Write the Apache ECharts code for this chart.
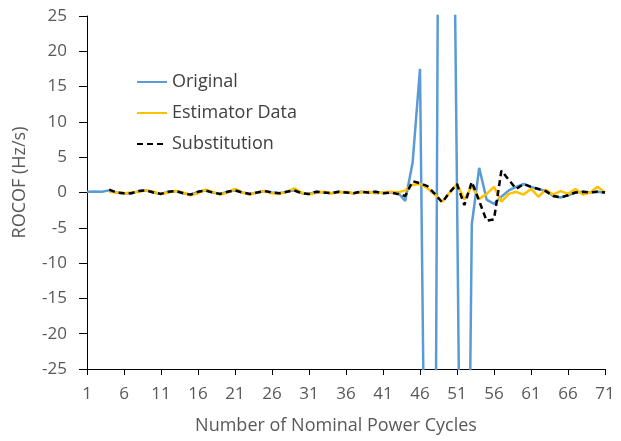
<!DOCTYPE html>
<html>
<head>
<meta charset="utf-8">
<script src="https://cdn.jsdelivr.net/npm/echarts@6/dist/echarts.min.js"></script>
<style>
  html, body { margin: 0; padding: 0; background: #fff; }
  #chart { width: 621px; height: 441px; }
</style>
</head>
<body>
<div id="chart"></div>
<script>
// cycle numbers 1..71
const cycles = []
for (let c = 1; c <= 71; c++) cycles.push(String(c))

const yTicks = [-25, 25, 5] // min, max, step

const original = [
  0.1, 0.15, 0.1, 0.3, 0.0, -0.1, -0.1, 0.2, 0.3, 0.0,
  -0.2, 0.1, 0.2, -0.1, -0.3, 0.1, 0.3, 0.0, -0.2, 0.1,
  0.3, 0.0, -0.2, 0.0, 0.2, 0.0, -0.1, 0.1, 0.3, -0.1,
  -0.2, 0.1, 0.0, -0.1, 0.1, 0.0, -0.1, 0.1, 0.0, 0.1,
  -0.1, 0.0, 0.0, -1.2, 4.2, 17.5, -78, -65, 166, 100,
  0.5, -105, -4.5, 3.5, -1.0, -1.6, -0.6, 0.3, 0.8, 1.2,
  0.8, 0.5, 0.2, -0.5, -0.7, -0.4, 0.0, 0.1, 0.0, 0.1,
  0.0
]

const estimator = [
  null, null, null, 0.1, 0.0, -0.1, 0.0, 0.1, 0.3, 0.1,
  -0.2, 0.0, 0.2, 0.0, -0.4, -0.1, 0.4, 0.1, -0.3, 0.0,
  0.5, 0.0, -0.3, 0.0, 0.2, -0.1, -0.2, 0.1, 0.6, 0.0,
  -0.3, 0.0, 0.1, -0.1, 0.0, 0.1, -0.1, 0.0, 0.1, -0.1,
  0.0, 0.1, 0.0, 0.3, 1.1, 1.2, 0.6, -0.3, -1.3, 0.0,
  1.2, -1.0, 0.9, -0.9, -0.2, 0.8, -1.3, -0.2, 0.1, -0.3,
  0.5, -0.6, 0.4, -0.3, 0.2, -0.2, 0.5, -0.3, 0.0, 0.8,
  0.0
]

const substitution = [
  null, null, null, 0.4, 0.0, -0.1, -0.1, 0.2, 0.3, 0.0,
  -0.2, 0.1, 0.2, -0.1, -0.3, 0.1, 0.3, 0.0, -0.2, 0.1,
  0.3, 0.0, -0.2, 0.0, 0.2, 0.0, -0.1, 0.1, 0.3, -0.1,
  -0.2, 0.1, 0.0, -0.1, 0.1, 0.0, -0.1, 0.1, 0.0, 0.1,
  -0.1, 0.0, -0.2, -0.5, 1.6, 1.3, 0.9, -0.2, -1.4, 0.0,
  1.2, -1.8, 1.5, -1.2, -4.0, -3.8, 3.1, 1.8, 0.5, 1.2,
  0.8, 0.5, 0.2, -0.5, -0.7, -0.4, 0.0, 0.1, 0.0, 0.1,
  0.0
]

const font = '"Open Sans", "Liberation Sans", sans-serif'
const chart = echarts.init(document.getElementById('chart'), null, { renderer: 'canvas' })

chart.setOption({
  animation: false,
  grid: { left: 87, right: 16, top: 16, bottom: 72 },
  legend: {
    orient: 'vertical',
    left: 131,
    top: 68,
    itemWidth: 30,
    itemHeight: 12,
    itemGap: 13,
    itemStyle: { opacity: 0 },
    textStyle: { fontFamily: font, fontSize: 18, color: '#404040' },
    data: ['Original', 'Estimator Data', 'Substitution'],
  },
  xAxis: {
    type: 'category',
    data: cycles,
    boundaryGap: false,
    name: 'Number of Nominal Power Cycles',
    nameLocation: 'middle',
    nameGap: 48,
    nameTextStyle: { fontFamily: font, fontSize: 18, color: '#595959', padding: [0, 20, 0, 0] },
    axisLine: { onZero: false, lineStyle: { color: '#000', width: 1 } },
    axisTick: { interval: 4, length: 6, lineStyle: { color: '#000' } },
    axisLabel: { interval: 4, margin: 17, fontFamily: font, fontSize: 17, color: '#595959' },
    splitLine: { show: false },
  },
  yAxis: {
    type: 'value',
    min: yTicks[0],
    max: yTicks[1],
    interval: yTicks[2],
    name: 'ROCOF (Hz/s)',
    nameLocation: 'middle',
    nameGap: 58,
    nameTextStyle: { fontFamily: font, fontSize: 18, color: '#595959', padding: [0, 0, 0, 20] },
    axisLine: { show: true, lineStyle: { color: '#000', width: 1 } },
    axisTick: { show: true, length: 8, lineStyle: { color: '#000' } },
    axisLabel: { margin: 20, fontFamily: font, fontSize: 17, color: '#595959' },
    splitLine: { show: false },
  },
  series: [
    {
      name: 'Original',
      type: 'line',
      data: original,
      symbol: 'none',
      clip: true,
      lineStyle: { color: '#5B9BD5', width: 2.5 },
      itemStyle: { color: '#5B9BD5' },
    },
    {
      name: 'Estimator Data',
      type: 'line',
      data: estimator,
      symbol: 'none',
      clip: true,
      lineStyle: { color: '#FFC000', width: 2.5 },
      itemStyle: { color: '#FFC000' },
    },
    {
      name: 'Substitution',
      type: 'line',
      data: substitution,
      symbol: 'none',
      clip: true,
      lineStyle: { color: '#000', width: 2.5, type: [6, 4] },
      itemStyle: { color: '#000' },
    },
  ],
})
</script>
</body>
</html>
